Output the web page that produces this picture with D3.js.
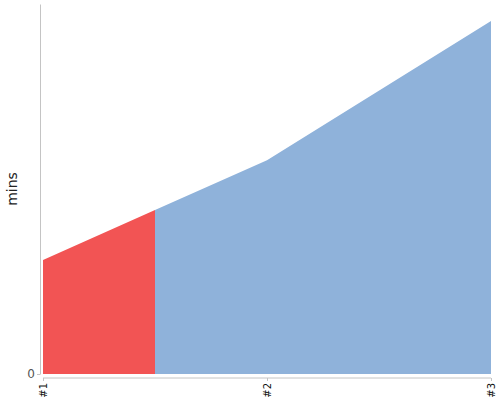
<!DOCTYPE html>
<html lang="en">
<head>
<meta charset="utf-8">
<title>mins</title>
<script src="https://d3js.org/d3.v7.min.js"></script>
<style>
  body { margin: 0; background: #fff; }
  .axis path, .axis line { stroke: #c4c4c4; }
</style>
</head>
<body>
<div id="chart"></div>
<script>
// chart data
var categories = ["#1", "#2", "#3"];
var minsValues = [30.8, 57.8, 95.4];
var yTicks = [0];
var yMax = 100;

var width = 500, height = 400;
var plotLeft = 43, plotRight = 491, plotTop = 4, plotBottom = 374;

var svg = d3.select("#chart").append("svg")
    .attr("width", width)
    .attr("height", height);

// scales
var x = d3.scalePoint().domain(categories).range([plotLeft, plotRight]);
var y = d3.scaleLinear().domain([0, yMax]).range([plotBottom, plotTop]);

var data = categories.map(function(c, i){ return {cat: c, v: minsValues[i]}; });

var area = d3.area()
    .x(function(d){ return x(d.cat); })
    .y0(y(0))
    .y1(function(d){ return y(d.v); });

// red part runs from first point to halfway to the second one
var split = (x(categories[0]) + x(categories[1])) / 2;

var defs = svg.append("defs");
defs.append("clipPath").attr("id", "clipRed").append("rect")
    .attr("x", x(categories[0])).attr("y", 0)
    .attr("width", split - x(categories[0])).attr("height", height);
defs.append("clipPath").attr("id", "clipBlue").append("rect")
    .attr("x", split).attr("y", 0)
    .attr("width", x(categories[categories.length - 1]) - split).attr("height", height);

svg.append("path").datum(data)
    .attr("d", area)
    .attr("fill", "#8fb2da")
    .attr("clip-path", "url(#clipBlue)");

svg.append("path").datum(data)
    .attr("d", area)
    .attr("fill", "#f25454")
    .attr("clip-path", "url(#clipRed)");

// y axis
var yAxis = svg.append("g")
    .attr("class", "axis")
    .attr("transform", "translate(40,0)")
    .call(d3.axisLeft(y).tickValues(yTicks).tickSize(3).tickSizeOuter(0));
yAxis.selectAll("text")
    .attr("fill", "#555")
    .style("font-family", "DejaVu Sans, sans-serif")
    .style("font-size", "12px")
    .attr("x", -5);

// x axis
var xAxis = svg.append("g")
    .attr("class", "axis")
    .attr("transform", "translate(0,378)")
    .call(d3.axisBottom(x).tickSize(3).tickSizeOuter(0));
xAxis.select(".domain").attr("d", "M" + plotLeft + ",0H" + plotRight);
xAxis.selectAll("text")
    .attr("fill", "#111")
    .style("font-family", "DejaVu Sans, sans-serif")
    .style("font-size", "10px")
    .attr("transform", "rotate(-90)")
    .attr("text-anchor", "end")
    .attr("x", -5)
    .attr("y", 0)
    .attr("dy", "0.35em");

// y axis title
svg.append("text")
    .attr("transform", "translate(17,189) rotate(-90)")
    .attr("text-anchor", "middle")
    .attr("fill", "#222")
    .style("font-family", "DejaVu Sans, sans-serif")
    .style("font-size", "14px")
    .text("mins");
</script>
</body>
</html>
